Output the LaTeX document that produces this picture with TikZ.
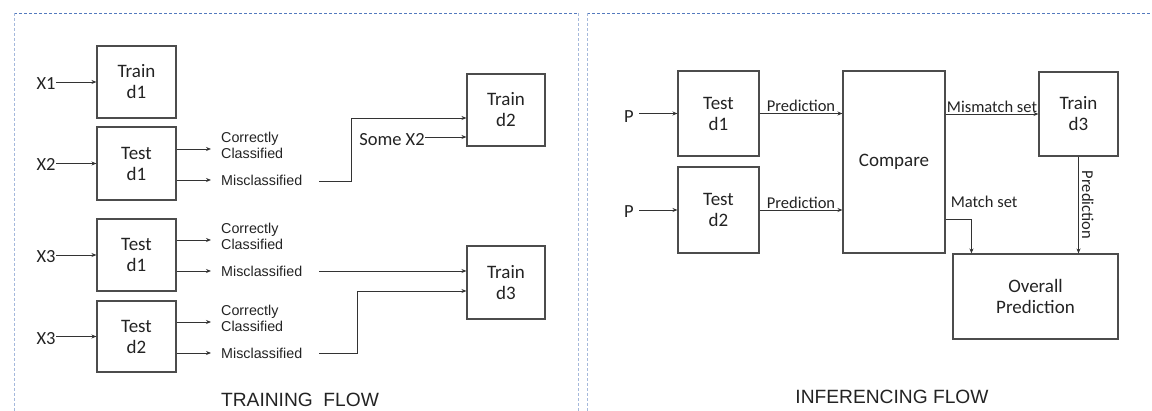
\documentclass[tikz,border=0pt]{standalone}
\usepackage{fontspec}
\setmainfont{Liberation Sans}
\newfontfamily\calfont{Carlito}
\usetikzlibrary{arrows.meta,calc}
\definecolor{panelblue}{RGB}{84,122,190}
\definecolor{panellight}{RGB}{165,185,220}
\definecolor{ink}{RGB}{35,35,35}
\begin{document}
\begin{tikzpicture}[x=1pt,y=-1pt,
  box/.style={draw=black!70, line width=1.1pt, inner sep=0pt, align=center, text=ink,
    font=\calfont\fontsize{19}{21}\selectfont},
  cl/.style={inner sep=0.5pt, text=ink, font=\calfont\fontsize{18.5}{20}\selectfont},
  sl/.style={inner sep=1pt, text=ink, font=\calfont\fontsize{16.5}{18}\selectfont},
  lbl/.style={inner sep=0pt, anchor=west, align=left, text=ink,
    font=\fontsize{14.3}{16}\selectfont},
  ttl/.style={inner sep=0pt, text=ink, font=\fontsize{19.2}{22}\selectfont},
  arr/.style={draw=black!80, line width=0.9pt, -{Stealth[length=5pt,width=4pt]}},
  panelh/.style={draw=panelblue, line width=0.9pt, dash pattern=on 3pt off 2pt},
  panelv/.style={draw=panellight, line width=1pt, dash pattern=on 3pt off 2pt}]
\useasboundingbox (0,0) rectangle (1152,411);

% panels
\draw[panelh] (14,13) -- (578,13);
\draw[panelv] (14,13) -- (14,411);
\draw[panelv] (578,13) -- (578,411);
\draw[panelh] (587,13) -- (1152,13);
\draw[panelv] (587,13) -- (587,411);

% ---------- TRAINING FLOW ----------
\node[box, minimum width=79pt, minimum height=72pt] (trd1) at (136.5,82) {Train\\d1};
\node[box, minimum width=79pt, minimum height=73pt] (tsa) at (136.5,163.5) {Test\\d1};
\node[box, minimum width=79pt, minimum height=72pt] (tsb) at (136.5,255) {Test\\d1};
\node[box, minimum width=79pt, minimum height=71pt] (tsc) at (136.5,336.5) {Test\\d2};
\node[box, minimum width=78pt, minimum height=72pt] (trd2) at (506,110) {Train\\d2};
\node[box, minimum width=78pt, minimum height=73pt] (trd3) at (506,282.5) {Train\\d3};

\node[cl] (x1) at (46,84) {X1};
\node[cl] (x2) at (46,165) {X2};
\node[cl] (x3a) at (46,257) {X3};
\node[cl] (x3b) at (46,339) {X3};
\draw[arr] (x1.east |- trd1.west) -- (trd1.west);
\draw[arr] (x2.east |- tsa.west) -- (tsa.west);
\draw[arr] (x3a.east |- tsb.west) -- (tsb.west);
\draw[arr] (x3b.east |- tsc.west) -- (tsc.west);

% outputs of Test d1 (X2)
\node[lbl] (cc1) at (221,145) {Correctly\\Classified};
\node[lbl] (mc1) at (221,180) {Misclassified};
\coordinate (cc1a) at ($(cc1.west)+(-10,4)$);
\coordinate (mc1a) at ($(mc1.west)+(-10,0)$);
\draw[arr] (cc1a -| tsa.east) -- (cc1a);
\draw[arr] (mc1a -| tsa.east) -- (mc1a);
\coordinate (mc1b) at ($(mc1.east)+(17,1)$);
\coordinate (d2in1) at ($(trd2.west)+(0,8)$);
\coordinate (d2in2) at ($(trd2.west)+(0,27)$);
\draw[arr] (mc1b) -- ++(32,0) |- (d2in1);
\node[cl] (sx2) at (392,140) {Some X2};
\draw[arr] (sx2.east |- d2in2) -- (d2in2);

% outputs of Test d1 (X3)
\node[lbl] (cc2) at (221,236) {Correctly\\Classified};
\node[lbl] (mc2) at (221,271) {Misclassified};
\coordinate (cc2a) at ($(cc2.west)+(-10,4)$);
\coordinate (mc2a) at ($(mc2.west)+(-10,0)$);
\draw[arr] (cc2a -| tsb.east) -- (cc2a);
\draw[arr] (mc2a -| tsb.east) -- (mc2a);
\coordinate (mc2b) at ($(mc2.east)+(17,0)$);
\draw[arr] (mc2b) -- (mc2b -| trd3.west);

% outputs of Test d2 (X3)
\node[lbl] (cc3) at (221,318) {Correctly\\Classified};
\node[lbl] (mc3) at (221,353) {Misclassified};
\coordinate (cc3a) at ($(cc3.west)+(-10,4)$);
\coordinate (mc3a) at ($(mc3.west)+(-10,0)$);
\draw[arr] (cc3a -| tsc.east) -- (cc3a);
\draw[arr] (mc3a -| tsc.east) -- (mc3a);
\coordinate (mc3b) at ($(mc3.east)+(17,0)$);
\coordinate (d3in2) at ($(trd3.west)+(0,8.5)$);
\draw[arr] (mc3b) -- ++(38,0) |- (d3in2);

\node[ttl] (tflow) at (300,400) {TRAINING\hspace{0.55em}FLOW};

% ---------- INFERENCING FLOW ----------
\node[box, minimum width=81pt, minimum height=85pt] (tr1) at (718.5,113.5) {Test\\d1};
\node[box, minimum width=81pt, minimum height=86pt] (tr2) at (718.5,210) {Test\\d2};
\node[box, minimum width=102pt, minimum height=182pt] (cmp) at (894,162) {Compare};
\node[box, minimum width=79pt, minimum height=84pt] (trd3r) at (1078.5,114) {Train\\d3};
\node[box, minimum width=165pt, minimum height=85pt] (ovr) at (1035.5,296.5) {Overall\\Prediction};

\node[cl] (p1) at (629,117) {P};
\node[cl] (p2) at (629,212) {P};
\coordinate (p1a) at ($(p1.east)+(5,0)$);
\coordinate (p2a) at ($(p2.east)+(5,0)$);
\draw[arr] (p1a |- tr1.west) -- (tr1.west);
\draw[arr] (p2a |- tr2.west) -- (tr2.west);

\draw[arr] (tr1.east) -- (tr1.east -| cmp.west)
  node[sl, midway, above] (pr1) {Prediction};
\draw[arr] (tr2.east) -- (tr2.east -| cmp.west)
  node[sl, midway, above] (pr2) {Prediction};
\draw[arr] (trd3r.west -| cmp.east) -- (trd3r.west)
  node[sl, midway, above] (mm) {Mismatch set};
\coordinate (ms1) at ($(cmp.east)+(0,57)$);
\coordinate (ms2) at ($(ovr.north west)+(19,0)$);
\draw[arr] (ms1) -| (ms2);
\node[sl, anchor=west] (mset) at ($(cmp.east)+(4,40)$) {Match set};
\draw[arr] (trd3r.south) -- (trd3r.south |- ovr.north)
  node[sl, midway, anchor=south, rotate=-90, inner sep=3pt] (pr3) {Prediction};

\node[ttl] (iflow) at (892,397) {INFERENCING FLOW};
\end{tikzpicture}
\end{document}
